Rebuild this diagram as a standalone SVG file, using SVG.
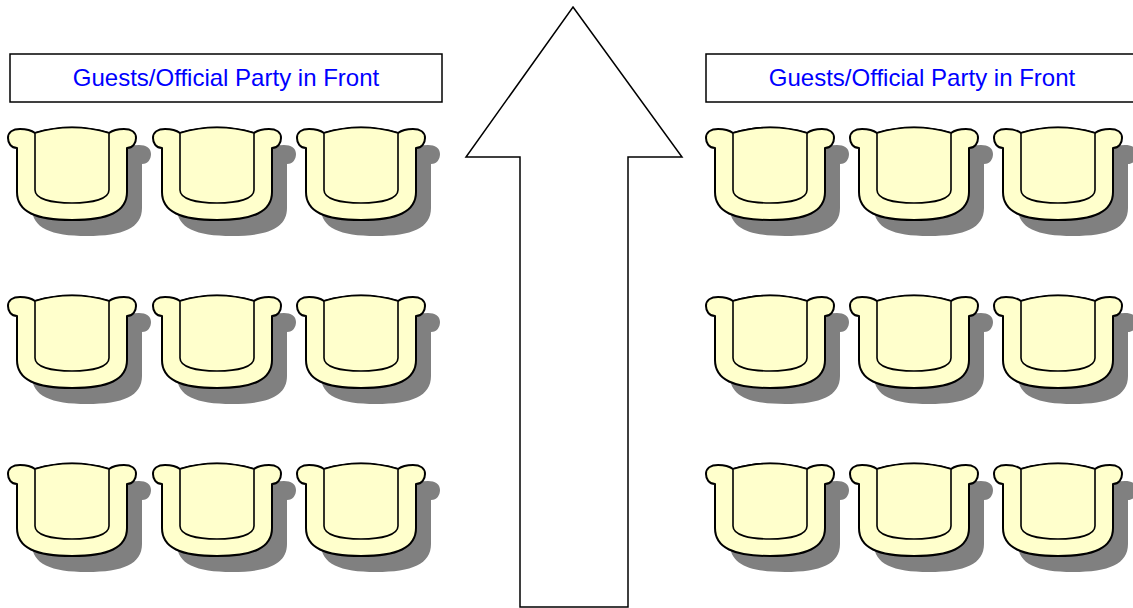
<svg xmlns="http://www.w3.org/2000/svg" xmlns:xlink="http://www.w3.org/1999/xlink" width="1133" height="608" viewBox="0 0 1133 608">
<style>
.box{fill:#fff;stroke:#000;stroke-width:1.5}
.lbl{font-family:"Liberation Sans",Arial,sans-serif;font-size:24px;fill:#0000ff;text-anchor:middle}
.outer{fill:#ffffcc;stroke:#000;stroke-width:2;stroke-linejoin:round}
.inner{fill:#ffffcc;stroke:#000;stroke-width:1.6;stroke-linejoin:round}
.shadow{fill:#808080}
.arrow{fill:#fff;stroke:#000;stroke-width:1.5}
</style>
<defs>
<path id="chairOuter" d="M27 7 Q64 -4 101 7 C105 4 110 3 116 3 C123 3 128 6 128 12 C128 17 125 22 119 22 L119 66 C119 86 100 94 64 94 C28 94 9 86 9 66 L9 22 C3 22 0 17 0 12 C0 6 5 3 12 3 C18 3 23 4 27 7 Z"/>
<path id="chairInner" d="M27 7 Q64 -4 101 7 L101 64 C101 73 85 77 64 77 C43 77 27 73 27 64 Z"/>
<g id="chair">
<use xlink:href="#chairOuter" href="#chairOuter" class="shadow" transform="translate(15,16)"/>
<use xlink:href="#chairOuter" href="#chairOuter" class="outer"/>
<use xlink:href="#chairInner" href="#chairInner" class="inner"/>
</g>
</defs>
<g id="arrow">
<polygon class="arrow" points="573,7 682,157 628,157 628,607 520,607 520,157 466,157"/>
</g>
<g id="label-left">
<rect class="box" x="10" y="54" width="432" height="48"/>
<text class="lbl" x="226" y="86">Guests/Official Party in Front</text>
</g>
<g id="label-right">
<rect class="box" x="706" y="54" width="432" height="48"/>
<text class="lbl" x="922" y="86">Guests/Official Party in Front</text>
</g>
<g id="chairs-left">
<use id="cL11" href="#chair" xlink:href="#chair" transform="translate(8,126)"/>
<use id="cL12" href="#chair" xlink:href="#chair" transform="translate(153,126)"/>
<use id="cL13" href="#chair" xlink:href="#chair" transform="translate(297,126)"/>
<use id="cL21" href="#chair" xlink:href="#chair" transform="translate(8,294)"/>
<use id="cL22" href="#chair" xlink:href="#chair" transform="translate(153,294)"/>
<use id="cL23" href="#chair" xlink:href="#chair" transform="translate(297,294)"/>
<use id="cL31" href="#chair" xlink:href="#chair" transform="translate(8,462)"/>
<use id="cL32" href="#chair" xlink:href="#chair" transform="translate(153,462)"/>
<use id="cL33" href="#chair" xlink:href="#chair" transform="translate(297,462)"/>
</g>
<g id="chairs-right">
<use id="cR11" href="#chair" xlink:href="#chair" transform="translate(706,126)"/>
<use id="cR12" href="#chair" xlink:href="#chair" transform="translate(850,126)"/>
<use id="cR13" href="#chair" xlink:href="#chair" transform="translate(994,126)"/>
<use id="cR21" href="#chair" xlink:href="#chair" transform="translate(706,294)"/>
<use id="cR22" href="#chair" xlink:href="#chair" transform="translate(850,294)"/>
<use id="cR23" href="#chair" xlink:href="#chair" transform="translate(994,294)"/>
<use id="cR31" href="#chair" xlink:href="#chair" transform="translate(706,462)"/>
<use id="cR32" href="#chair" xlink:href="#chair" transform="translate(850,462)"/>
<use id="cR33" href="#chair" xlink:href="#chair" transform="translate(994,462)"/>
</g>
</svg>
